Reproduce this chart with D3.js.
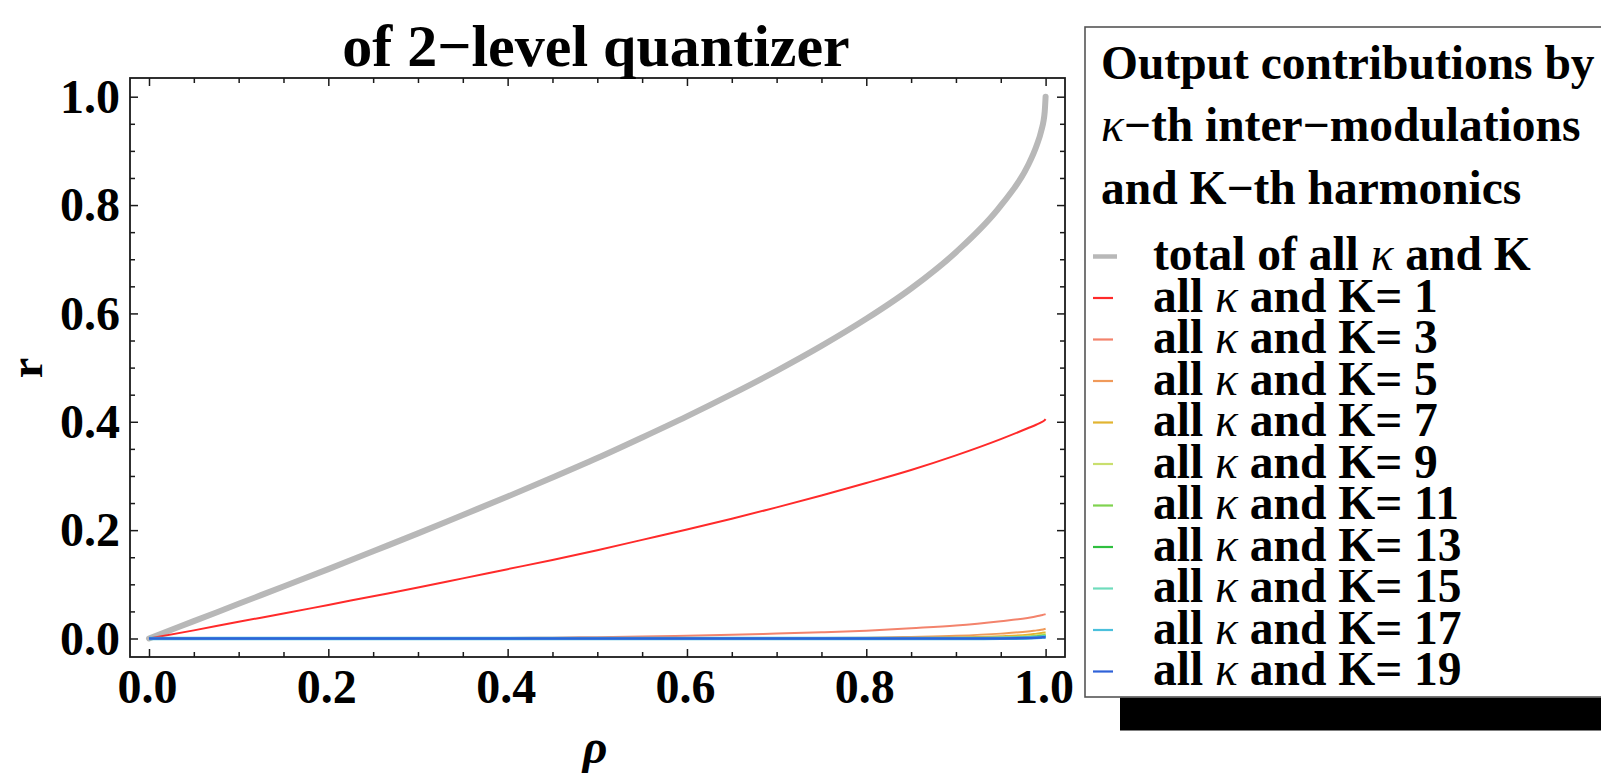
<!DOCTYPE html>
<html>
<head>
<meta charset="utf-8">
<script src="https://cdn.jsdelivr.net/npm/d3@7"></script>
<style>
  html, body { margin: 0; padding: 0; background: #fff; }
  svg { display: block; }
  text { font-family: "Liberation Serif", "Times New Roman", serif; font-weight: bold; fill: #000; }
</style>
</head>
<body>
<svg id="chart" width="1601" height="776"></svg>
<script>
// correlation coefficient of the input (x axis)
const rho = [0, 0.05, 0.1, 0.15, 0.2, 0.25, 0.3, 0.35, 0.4, 0.45, 0.5, 0.55, 0.6, 0.65, 0.7,
             0.75, 0.8, 0.85, 0.9, 0.95, 0.98, 0.99, 0.995, 0.999, 1];

// output correlation: total and per-harmonic contributions
const total = [0, 0.032, 0.064, 0.096, 0.128, 0.161, 0.194, 0.228, 0.262, 0.297, 0.333, 0.371, 0.410, 0.451, 0.494,
               0.540, 0.590, 0.646, 0.713, 0.799, 0.872, 0.910, 0.936, 0.972, 1.0];
const k1  = [0, 0.015, 0.031, 0.046, 0.062, 0.078, 0.094, 0.111, 0.128, 0.145, 0.163, 0.182, 0.201, 0.221, 0.242,
             0.264, 0.287, 0.311, 0.338, 0.368, 0.388, 0.395, 0.399, 0.403, 0.405];
const k3  = [0, 0, 0, 0, 0, 0, 0.0004, 0.0006, 0.001, 0.0016, 0.0025, 0.0036, 0.005, 0.0067, 0.009,
             0.0115, 0.0145, 0.019, 0.024, 0.032, 0.038, 0.041, 0.043, 0.0445, 0.045];
const k5  = [0, 0, 0, 0, 0, 0, 0, 0, 0, 0, 0, 0, 0, 0, 0,
             0.0008, 0.0015, 0.003, 0.005, 0.009, 0.013, 0.015, 0.016, 0.0175, 0.018];
const k7  = [0, 0, 0, 0, 0, 0, 0, 0, 0, 0, 0, 0, 0, 0, 0,
             0, 0, 0.001, 0.002, 0.004, 0.007, 0.009, 0.010, 0.011, 0.011];
const k9  = [0, 0, 0, 0, 0, 0, 0, 0, 0, 0, 0, 0, 0, 0, 0,
             0, 0, 0.0005, 0.001, 0.002, 0.004, 0.006, 0.007, 0.008, 0.008];
const k11 = [0, 0, 0, 0, 0, 0, 0, 0, 0, 0, 0, 0, 0, 0, 0,
             0, 0, 0, 0.0005, 0.001, 0.003, 0.004, 0.005, 0.006, 0.006];
const k13 = [0, 0, 0, 0, 0, 0, 0, 0, 0, 0, 0, 0, 0, 0, 0,
             0, 0, 0, 0.0003, 0.0008, 0.002, 0.003, 0.004, 0.0045, 0.005];
const k15 = [0, 0, 0, 0, 0, 0, 0, 0, 0, 0, 0, 0, 0, 0, 0,
             0, 0, 0, 0, 0.0005, 0.0015, 0.0025, 0.003, 0.0035, 0.004];
const k17 = [0, 0, 0, 0, 0, 0, 0, 0, 0, 0, 0, 0, 0, 0, 0,
             0, 0, 0, 0, 0.0003, 0.001, 0.002, 0.0025, 0.003, 0.003];
const k19 = [0, 0, 0, 0, 0, 0, 0, 0, 0, 0, 0, 0, 0, 0, 0,
             0, 0, 0, 0, 0.0002, 0.0008, 0.0015, 0.002, 0.0025, 0.0025];

const harmonicOrders = [1, 3, 5, 7, 9, 11, 13, 15, 17, 19];
const harmonicValues = [k1, k3, k5, k7, k9, k11, k13, k15, k17, k19];
const harmonicColors = ["#ff2a2a", "#f3836c", "#f09a5a", "#e2b431", "#c9df6e",
                        "#7fd34f", "#2fbf3f", "#6fdcbc", "#4bc0dc", "#2f62d8"];
const harmonicWidths = [2, 2, 2, 2, 2, 2, 2, 2.5, 3.5, 2.5];

const xTickValues = [0, 0.2, 0.4, 0.6, 0.8, 1.0];
const yTickValues = [0, 0.2, 0.4, 0.6, 0.8, 1.0];
const minorTickValues = [0.05, 0.1, 0.15, 0.25, 0.3, 0.35, 0.45, 0.5, 0.55, 0.65, 0.7, 0.75, 0.85, 0.9, 0.95];

const titleText = "of 2\u2212level quantizer";
const legendTitle = [
  [["Output contributions by", false]],
  [["\u03ba", true], ["\u2212th inter\u2212modulations", false]],
  [["and K\u2212th harmonics", false]]
];

// ---- layout ----
const frame = { left: 130, right: 1065, top: 78, bottom: 657 };
const svg = d3.select("#chart");

const x = d3.scaleLinear().domain([0, 1]).range([149, 1045.6]);
const y = d3.scaleLinear().domain([0, 1]).range([638.5, 96.7]);

const fmt = d3.format(".1f");
const frameColor = "#1a1a1a";
const tickFont = "48px";

// frame
svg.append("rect")
  .attr("x", frame.left).attr("y", frame.top)
  .attr("width", frame.right - frame.left).attr("height", frame.bottom - frame.top)
  .attr("fill", "none").attr("stroke", frameColor).attr("stroke-width", 1.8);

function styleAxis(g) {
  g.select(".domain").remove();
  g.selectAll(".tick line").attr("stroke", frameColor).attr("stroke-width", 1.5);
}

// bottom axis with labels
svg.append("g").attr("transform", `translate(0,${frame.bottom})`)
  .call(d3.axisBottom(x).tickValues(xTickValues).tickSizeInner(-8).tickSizeOuter(0).tickFormat(fmt))
  .call(styleAxis)
  .call(g => g.selectAll(".tick text")
    .attr("x", -2).attr("y", 46).attr("dy", 0)
    .style("font-size", tickFont).style("font-family", "Liberation Serif").style("font-weight", "bold").attr("fill", "#000"));
svg.append("g").attr("transform", `translate(0,${frame.bottom})`)
  .call(d3.axisBottom(x).tickValues(minorTickValues).tickSizeInner(-5).tickSizeOuter(0).tickFormat(""))
  .call(styleAxis);

// top axis (ticks only)
svg.append("g").attr("transform", `translate(0,${frame.top})`)
  .call(d3.axisTop(x).tickValues(xTickValues).tickSizeInner(-8).tickSizeOuter(0).tickFormat(""))
  .call(styleAxis);
svg.append("g").attr("transform", `translate(0,${frame.top})`)
  .call(d3.axisTop(x).tickValues(minorTickValues).tickSizeInner(-5).tickSizeOuter(0).tickFormat(""))
  .call(styleAxis);

// left axis with labels
svg.append("g").attr("transform", `translate(${frame.left},0)`)
  .call(d3.axisLeft(y).tickValues(yTickValues).tickSizeInner(-8).tickSizeOuter(0).tickFormat(fmt))
  .call(styleAxis)
  .call(g => g.selectAll(".tick text")
    .attr("x", -10).attr("dy", "0.33em")
    .style("font-size", tickFont).style("font-family", "Liberation Serif").style("font-weight", "bold").attr("fill", "#000"));
svg.append("g").attr("transform", `translate(${frame.left},0)`)
  .call(d3.axisLeft(y).tickValues(minorTickValues).tickSizeInner(-5).tickSizeOuter(0).tickFormat(""))
  .call(styleAxis);

// right axis (ticks only)
svg.append("g").attr("transform", `translate(${frame.right},0)`)
  .call(d3.axisRight(y).tickValues(yTickValues).tickSizeInner(-8).tickSizeOuter(0).tickFormat(""))
  .call(styleAxis);
svg.append("g").attr("transform", `translate(${frame.right},0)`)
  .call(d3.axisRight(y).tickValues(minorTickValues).tickSizeInner(-5).tickSizeOuter(0).tickFormat(""))
  .call(styleAxis);

// curves
const line = d3.line()
  .x((d, i) => x(rho[i]))
  .y(d => y(d))
  .curve(d3.curveMonotoneX);

svg.append("clipPath").attr("id", "plot-clip")
  .append("rect").attr("x", frame.left).attr("y", frame.top)
  .attr("width", frame.right - frame.left).attr("height", frame.bottom - frame.top);

const plot = svg.append("g").attr("clip-path", "url(#plot-clip)");

plot.append("path").datum(total)
  .attr("d", line).attr("fill", "none")
  .attr("stroke", "#b8b8b8").attr("stroke-width", 6)
  .attr("stroke-linecap", "round").attr("stroke-linejoin", "round");

harmonicValues.forEach((vals, i) => {
  plot.append("path").datum(vals)
    .attr("d", line).attr("fill", "none")
    .attr("stroke", harmonicColors[i])
    .attr("stroke-width", harmonicWidths[i])
    .attr("stroke-linejoin", "round");
});

// title and axis labels
svg.append("text").attr("x", 596).attr("y", 66).attr("text-anchor", "middle")
  .style("font-size", "60px").text(titleText);

svg.append("text").attr("x", 595).attr("y", 763).attr("text-anchor", "middle")
  .style("font-size", "48px").style("font-style", "italic")
  .text("\u03c1");

svg.append("text").attr("transform", "translate(42,368) rotate(-90)")
  .attr("text-anchor", "middle").style("font-size", "46px").text("r");

// legend
const legend = svg.append("g");
legend.append("rect").attr("x", 1120).attr("y", 697.5).attr("width", 500).attr("height", 33).attr("fill", "#000");
legend.append("rect").attr("x", 1085).attr("y", 27).attr("width", 560).attr("height", 670)
  .attr("fill", "#fff").attr("stroke", "#555").attr("stroke-width", 1.6);

const legendFont = "47.5px";
const titleBaselines = [79, 141, 204];
legendTitle.forEach((parts, i) => {
  const t = legend.append("text").attr("x", 1101).attr("y", titleBaselines[i]).style("font-size", legendFont);
  parts.forEach(([s, ital]) => {
    const ts = t.append("tspan").text(s);
    if (ital) ts.style("font-style", "italic").style("font-weight", "normal");
  });
});

const rowStep = 41.5;
const firstRow = 270;
function legendRow(row, color, width, swatchLen, parts) {
  const by = firstRow + row * rowStep;
  legend.append("line").attr("x1", 1093).attr("x2", 1093 + swatchLen)
    .attr("y1", by - 13.5).attr("y2", by - 13.5)
    .attr("stroke", color).attr("stroke-width", width);
  const t = legend.append("text").attr("x", 1153).attr("y", by).style("font-size", legendFont);
  parts.forEach(([s, ital]) => {
    const ts = t.append("tspan").text(s);
    if (ital) ts.style("font-style", "italic").style("font-weight", "normal");
  });
}
legendRow(0, "#b8b8b8", 4.5, 24, [["total of all ", false], ["\u03ba", true], [" and K", false]]);
harmonicOrders.forEach((k, i) => {
  legendRow(i + 1, harmonicColors[i], 2.2, 20, [["all ", false], ["\u03ba", true], [" and K= " + k, false]]);
});
</script>
</body>
</html>
